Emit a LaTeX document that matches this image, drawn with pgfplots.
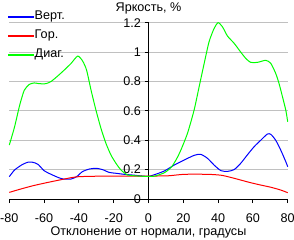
\documentclass[border=0pt]{standalone}
\usepackage{pgfplots}
\pgfplotsset{compat=1.18}
\usepackage{fontspec}
\setmainfont{Liberation Sans}
\definecolor{gridgray}{RGB}{192,192,192}
\definecolor{cblue}{RGB}{0,0,255}
\definecolor{cred}{RGB}{255,0,0}
\definecolor{cgreen}{RGB}{0,255,0}
\newcommand{\f}{\fontsize{12.6bp}{14bp}\selectfont}
\begin{document}
\begin{tikzpicture}
\begin{axis}[
  scale only axis,
  width=278.4bp, height=176.3bp,
  xmin=-80, xmax=80, ymin=0, ymax=1.2,
  axis x line*=bottom, axis y line*=middle,
  axis line style={-, black, line width=1bp},
  hide obscured x ticks=false, hide obscured y ticks=false,
  tick align=outside, major tick length=4bp,
  tick style={black, line width=1bp},
  xtick={-80,-60,-40,-20,0,20,40,60,80},
  xticklabels={-80,-60,-40,-20,0,20,40,60,80},
  ytick={0,0.2,0.4,0.6,0.8,1,1.2},
  yticklabels={0,0.2,0.4,0.6,0.8,1,1.2},
  ymajorgrids, grid style={gridgray, line width=1bp},
  tick label style={font=\f},
  yticklabel style={anchor=east, xshift=0bp},
  xticklabel style={yshift=-7bp},
  xlabel={Отклонение от нормали, градусы},
  xlabel style={font=\f, at={(axis description cs:0.5,0)}, anchor=base, yshift=-36.5bp},
  title={Яркость, \%},
  title style={font=\f, at={(axis description cs:0.5,1)}, anchor=base, yshift=5bp},
  legend style={draw=none, fill=none, font=\f, at={(axis description cs:0,1)}, anchor=north west, xshift=-2bp, yshift=12bp, inner sep=0pt, row sep=7bp, nodes={inner sep=0pt, text height=9bp, text depth=3bp}},
  legend cell align=left,
  legend image code/.code={\draw[#1, line width=1.25bp] (0bp,0bp) -- (26bp,0bp);},
  clip=false,
]
\addplot[cblue, line width=1bp, smooth, tension=0.4] coordinates {
(-80,0.152) (-77,0.197) (-73,0.231) (-69.5,0.25) (-66.5,0.25) (-63.5,0.236) (-60,0.193) (-56,0.168) (-52,0.147) (-49,0.136) (-44.5,0.136) (-41.3,0.152) (-38,0.186) (-34,0.204) (-30,0.209) (-26.4,0.20) (-22.6,0.181) (-18.7,0.175) (-14,0.168) (-9,0.163) (-3.4,0.156) (0,0.154) (3.3,0.165) (9,0.19) (14.8,0.231) (20.5,0.265) (26.2,0.297) (30,0.304) (33.9,0.277) (37.7,0.231) (41.6,0.193) (45.4,0.188) (49.2,0.20) (53,0.243) (56.8,0.30) (60.7,0.356) (64.5,0.40) (68.3,0.442) (70.3,0.44) (73.1,0.40) (76,0.333) (78.9,0.254) (80,0.22)};
\addlegendentry{Верт.}
\addplot[cred, line width=1bp, smooth, tension=0.4] coordinates {
(-80,0.045) (-74,0.066) (-66.5,0.09) (-59,0.11) (-51.3,0.129) (-44.5,0.145) (-40,0.152) (-30,0.155) (-20,0.155) (-10,0.155) (0,0.156) (11.3,0.158) (20.5,0.168) (33.9,0.168) (41.6,0.162) (47.3,0.147) (53,0.129) (58.7,0.111) (64.5,0.095) (70.3,0.08) (76,0.061) (80,0.043)};
\addlegendentry{Гор.}
\addplot[cgreen, line width=1bp, smooth, tension=0.4] coordinates {
(-80,0.367) (-77,0.49) (-74,0.64) (-71.4,0.74) (-68.5,0.78) (-65.6,0.79) (-62.8,0.785) (-59,0.785) (-56,0.80) (-52.2,0.837) (-48.4,0.878) (-44.5,0.923) (-40.7,0.973) (-37.9,0.94) (-35.6,0.878) (-33,0.74) (-30.2,0.605) (-27.3,0.48) (-24.5,0.38) (-21.6,0.30) (-18.7,0.243) (-15.8,0.197) (-12,0.163) (-8,0.158) (-4,0.155) (0,0.154) (3.3,0.155) (9,0.178) (13,0.215) (16,0.27) (18.6,0.333) (22.4,0.447) (26.2,0.605) (29.1,0.764) (32,0.923) (34.8,1.07) (37.7,1.161) (40,1.2) (42.5,1.172) (45.4,1.109) (49.2,1.06) (53,1.0) (55.9,0.957) (58.7,0.93) (62.6,0.93) (67.4,0.944) (70.3,0.923) (73.1,0.855) (75,0.787) (77,0.696) (78.9,0.605) (80,0.526)};
\addlegendentry{Диаг.}
\end{axis}
\pgfresetboundingbox
\path (-9.3bp,-41bp) rectangle (284.7bp,199bp);
\end{tikzpicture}
\end{document}
